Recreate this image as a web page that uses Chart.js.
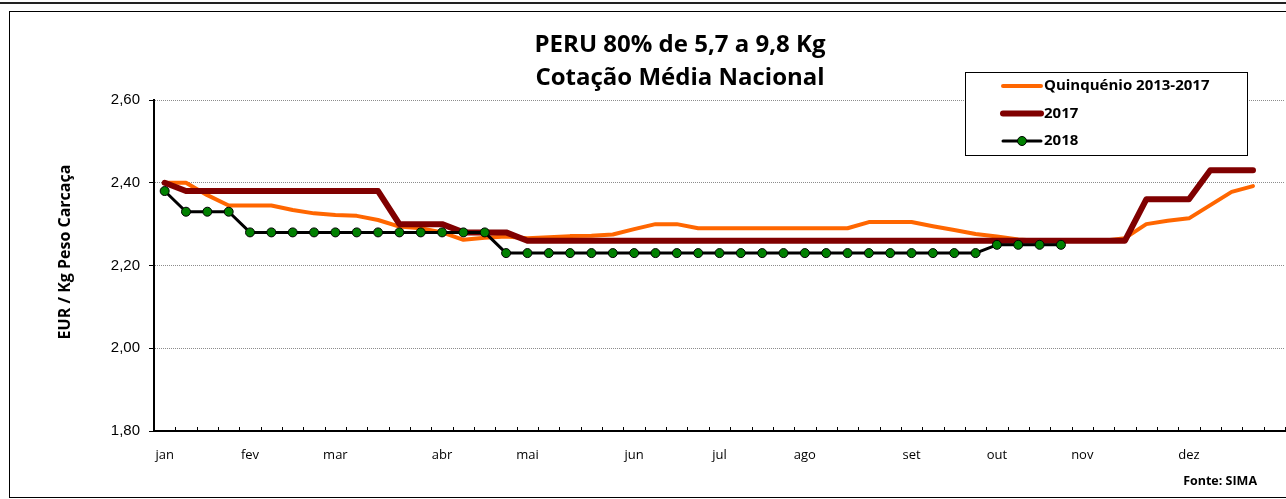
<!DOCTYPE html>
<html>
<head>
<meta charset="utf-8">
<script src="https://cdn.jsdelivr.net/npm/chart.js@4.4.0/dist/chart.umd.min.js"></script>
<style>
  html, body { margin: 0; padding: 0; background: #fff; overflow: hidden; width: 1286px; height: 499px; }
  .topline { position: absolute; left: 0; top: 2px; width: 1286px; border-top: 2px solid #222; }
  .frame { position: absolute; left: 9px; top: 11px; width: 1340px; height: 485px; border: 1px solid #000; }
  canvas { display: block; }
</style>
</head>
<body>
<div class="topline"></div>
<div class="frame"><canvas id="peruChart" width="1340" height="485"></canvas></div>
<script>
// weeks 1..53, month names under the first week of each month
const months = ['jan', 'fev', 'mar', 'abr', 'mai', 'jun', 'jul', 'ago', 'set', 'out', 'nov', 'dez'];
const monthWeeks = [1, 5, 9, 14, 18, 23, 27, 31, 36, 40, 44, 49];
const weekCount = 53;

const yTicks = [1.80, 2.00, 2.20, 2.40, 2.60];

// Quinquénio 2013-2017 (weekly average)
const quinquenio = [
    2.40, 2.40, 2.37, 2.345, 2.345, 2.345, 2.334, 2.326, 2.322, 2.32,
    2.31, 2.294, 2.29, 2.28, 2.262, 2.267, 2.27, 2.266, 2.268, 2.271,
    2.272, 2.275, 2.288, 2.30, 2.30, 2.29, 2.29, 2.29, 2.29, 2.29,
    2.29, 2.29, 2.29, 2.305, 2.305, 2.305, 2.295, 2.286, 2.276, 2.27,
    2.263, 2.26, 2.26, 2.26, 2.26, 2.266, 2.30, 2.308, 2.314, 2.346,
    2.378, 2.392
];

const y2017 = [
    2.40, 2.38, 2.38, 2.38, 2.38, 2.38, 2.38, 2.38, 2.38, 2.38,
    2.38, 2.30, 2.30, 2.30, 2.28, 2.28, 2.28, 2.26, 2.26, 2.26,
    2.26, 2.26, 2.26, 2.26, 2.26, 2.26, 2.26, 2.26, 2.26, 2.26,
    2.26, 2.26, 2.26, 2.26, 2.26, 2.26, 2.26, 2.26, 2.26, 2.26,
    2.26, 2.26, 2.26, 2.26, 2.26, 2.26, 2.36, 2.36, 2.36, 2.43,
    2.43, 2.43
];

const y2018 = [
    2.38, 2.33, 2.33, 2.33, 2.28, 2.28, 2.28, 2.28, 2.28, 2.28,
    2.28, 2.28, 2.28, 2.28, 2.28, 2.28, 2.23, 2.23, 2.23, 2.23,
    2.23, 2.23, 2.23, 2.23, 2.23, 2.23, 2.23, 2.23, 2.23, 2.23,
    2.23, 2.23, 2.23, 2.23, 2.23, 2.23, 2.23, 2.23, 2.23, 2.25,
    2.25, 2.25, 2.25
];

const weekLabels = [];
for (let w = 1; w <= weekCount; w++) {
    const m = monthWeeks.indexOf(w);
    weekLabels.push(m >= 0 ? months[m] : '');
}

// title, y title, legend box, source and the small inside ticks on the x axis
const extrasPlugin = {
    id: 'extras',
    afterDraw(chart) {
        const ctx = chart.ctx;
        const xs = chart.scales.x;
        ctx.save();

        // inside tick marks at week boundaries
        ctx.strokeStyle = '#000';
        ctx.lineWidth = 1;
        for (let i = 0; i <= weekCount; i++) {
            const x = Math.round(xs.getPixelForValue(i - 0.5)) + 0.5;
            ctx.beginPath();
            ctx.moveTo(x, xs.top);
            ctx.lineTo(x, xs.top - 4);
            ctx.stroke();
        }

        ctx.fillStyle = '#000';
        ctx.textAlign = 'center';
        ctx.textBaseline = 'middle';
        ctx.font = 'bold 24px "Open Sans"';
        ctx.fillText('PERU 80% de 5,7 a 9,8 Kg', 670, 33);
        ctx.fillText('Cotação Média Nacional', 670, 66);

        ctx.save();
        ctx.translate(55, 240);
        ctx.rotate(-Math.PI / 2);
        ctx.font = 'bold 16px "Open Sans"';
        ctx.fillText('EUR / Kg Peso Carcaça', 0, 0);
        ctx.restore();

        ctx.textAlign = 'right';
        ctx.font = 'bold 12.5px "Open Sans"';
        ctx.fillText('Fonte: SIMA', 1247, 469);

        // legend
        ctx.fillStyle = '#fff';
        ctx.fillRect(955.5, 60.5, 282, 83);
        ctx.strokeStyle = '#000';
        ctx.lineWidth = 1;
        ctx.strokeRect(955.5, 60.5, 282, 83);
        const rows = [74, 101.5, 129];
        chart.data.datasets.forEach((ds, i) => {
            const y = rows[i];
            ctx.strokeStyle = ds.borderColor;
            ctx.lineWidth = ds.borderWidth;
            ctx.lineCap = 'round';
            ctx.beginPath();
            ctx.moveTo(993, y);
            ctx.lineTo(1031, y);
            ctx.stroke();
            if (ds.pointRadius > 0) {
                ctx.fillStyle = ds.pointBackgroundColor;
                ctx.strokeStyle = ds.pointBorderColor;
                ctx.lineWidth = ds.pointBorderWidth;
                ctx.beginPath();
                ctx.arc(1012, y, ds.pointRadius, 0, Math.PI * 2);
                ctx.fill();
                ctx.stroke();
            }
            ctx.fillStyle = '#000';
            ctx.textAlign = 'left';
            ctx.font = 'bold 15px "Open Sans"';
            ctx.fillText(ds.label, 1034, y);
        });
        ctx.restore();
    }
};

const ctx = document.getElementById('peruChart').getContext('2d');
new Chart(ctx, {
    type: 'line',
    data: {
        labels: weekLabels,
        datasets: [
            {
                label: 'Quinquénio 2013-2017',
                data: quinquenio,
                borderColor: '#FF6600',
                borderWidth: 4,
                pointRadius: 0,
                borderCapStyle: 'round',
                borderJoinStyle: 'round',
                order: 3
            },
            {
                label: '2017',
                data: y2017,
                borderColor: '#800000',
                borderWidth: 6,
                pointRadius: 0,
                borderCapStyle: 'round',
                borderJoinStyle: 'round',
                order: 2
            },
            {
                label: '2018',
                data: y2018,
                borderColor: '#000000',
                borderWidth: 3,
                pointRadius: 4.5,
                pointBackgroundColor: '#008000',
                pointBorderColor: '#000000',
                pointBorderWidth: 1,
                borderJoinStyle: 'round',
                order: 1
            }
        ]
    },
    options: {
        responsive: false,
        animation: false,
        layout: { padding: { left: 0, right: 65, top: 88, bottom: 0 } },
        plugins: {
            legend: { display: false },
            title: { display: false },
            tooltip: { enabled: false }
        },
        scales: {
            x: {
                type: 'category',
                offset: true,
                afterFit: (scale) => { scale.height = 66; },
                grid: { display: false, drawTicks: false },
                border: { display: true, color: '#000', width: 2 },
                ticks: {
                    autoSkip: false,
                    maxRotation: 0,
                    padding: 16,
                    color: '#000',
                    font: { family: '"Open Sans"', size: 13 }
                }
            },
            y: {
                min: 1.8,
                max: 2.6,
                afterFit: (scale) => { scale.width = 144; },
                afterBuildTicks: (scale) => { scale.ticks = yTicks.map(v => ({ value: v })); },
                grid: {
                    color: (c) => (c.tick && c.tick.value <= 1.8) ? 'rgba(0,0,0,0)' : '#8c8c8c',
                    lineWidth: 1,
                    tickColor: '#000',
                    tickLength: 5,
                    tickBorderDash: []
                },
                border: { display: true, color: '#000', width: 2, dash: [1, 1] },
                ticks: {
                    padding: 9,
                    color: '#000',
                    font: { family: '"Liberation Sans"', size: 15 },
                    callback: (v) => Number(v).toFixed(2).replace('.', ',')
                }
            }
        }
    },
    plugins: [extrasPlugin]
});
</script>
</body>
</html>
